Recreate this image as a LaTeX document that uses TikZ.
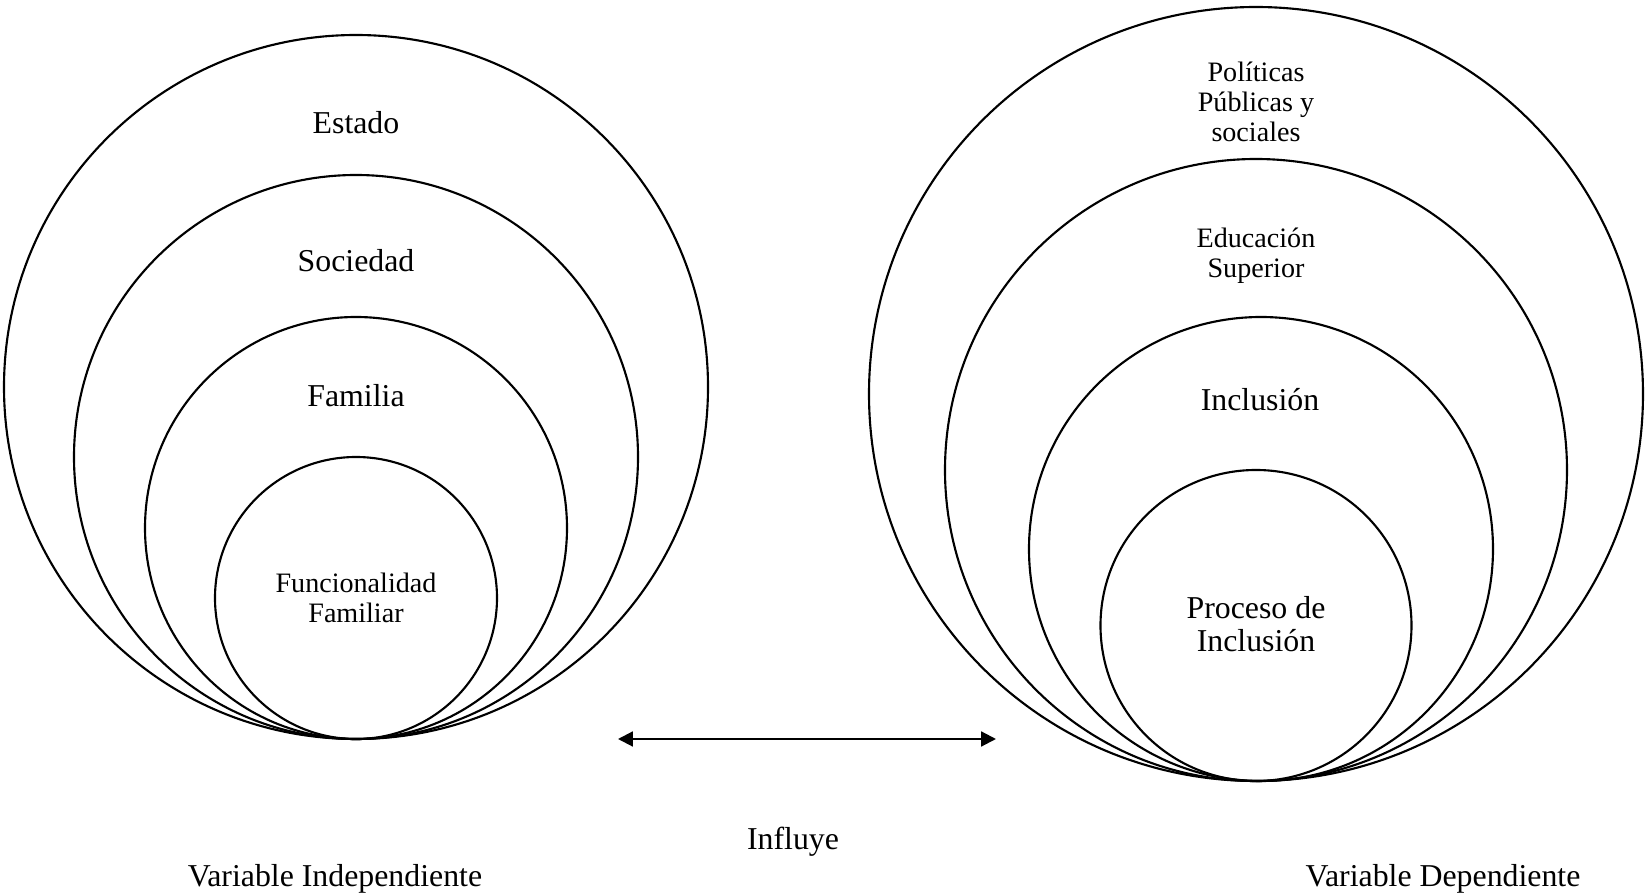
\documentclass[tikz,border=0pt]{standalone}
\usepackage{fontspec}
\setmainfont{Liberation Serif}
\usetikzlibrary{positioning,arrows.meta}

\newcommand{\px}{0.377pt}
\tikzset{
	ring/.style={draw, circle, line width=0.8pt, inner sep=0pt, outer sep=0pt, anchor=south},
	lab/.style={align=center, font=\fontsize{12}{12.2}\selectfont},
	smalllab/.style={align=center, font=\fontsize{10.6}{11.3}\selectfont},
	link/.style={line width=0.8pt, {Triangle[length=5.6pt,width=5.6pt]}-{Triangle[length=5.6pt,width=5.6pt]}},
}

\begin{document}
\begin{tikzpicture}[x=\px, y=-\px]
	\useasboundingbox (0,0) rectangle (1645,895);
	
	% variable independiente
	\coordinate (lbase) at (356,739);
	\node[ring, minimum size=704*\px] (estado) at (lbase) {};
	\node[ring, minimum size=564*\px] (sociedad) at (lbase) {};
	\node[ring, minimum size=422*\px] (familia) at (lbase) {};
	\node[ring, minimum size=282*\px] (funcion) at (lbase) {};
	
	\node[lab] (estadotxt) at (356,123) {Estado};
	\node[lab] (sociedadtxt) at (356,261) {Sociedad};
	\node[lab] (familiatxt) at (356,396) {Familia};
	\node[smalllab] (funciontxt) at (356,598) {Funcionalidad\\Familiar};
	
	% variable dependiente
	\coordinate (rbase) at (1256,781);
	\node[ring, minimum size=774*\px] (politicas) at (rbase) {};
	\node[ring, minimum size=622*\px] (educacion) at (rbase) {};
	\node[ring, minimum size=464*\px] (inclusion) at ([xshift=5*\px]rbase) {};
	\node[ring, minimum size=311*\px] (proceso) at (rbase) {};
	
	\node[smalllab] (politicastxt) at (1256,102) {Políticas\\Públicas y\\sociales};
	\node[smalllab] (educaciontxt) at (1256,256) {Educación\\Superior};
	\node[lab] (inclusiontxt) at (1260,400) {Inclusión};
	\node[lab] (procesotxt) at (1256,624) {Proceso de\\Inclusión};
	
	% flecha
	\coordinate (arrl) at (618,739);
	\coordinate (arrr) at (996,739);
	\draw[link] (arrl) -- (arrr);
	
	\node[lab, anchor=base] (influye) at (793,850) {Influye};
	\node[lab, anchor=base] (indep) at (335,887) {Variable Independiente};
	\node[lab, anchor=base] (dep) at (1443,887) {Variable Dependiente};
\end{tikzpicture}
\end{document}
